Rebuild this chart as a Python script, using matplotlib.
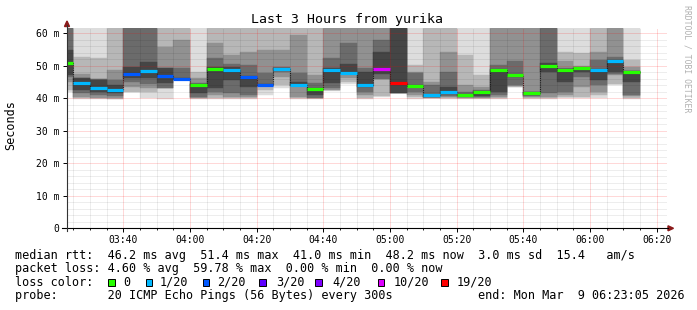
import numpy as np
import pandas as pd
import matplotlib
matplotlib.use('Agg')
import matplotlib.pyplot as plt
import matplotlib.dates as mdates
from matplotlib.patches import Rectangle, Polygon
from matplotlib.lines import Line2D

W, H = 697, 310

# 5 minute steps, time of the end of each step
t_start = pd.Timestamp('2026-03-09 03:23:05')
t_end = pd.Timestamp('2026-03-09 06:23:05')
bar_end = pd.date_range('2026-03-09 03:25', periods=35, freq='5min')

# median rtt (ms) and lost pings out of 20 per step
median = [50.8, 44.6, 43.2, 42.6, 47.5, 48.3, 46.7, 46.0, 44.0, 49.1,
          48.8, 46.6, 44.0, 49.1, 44.0, 42.8, 48.8, 47.7, 44.0, 48.9,
          44.6, 43.7, 40.9, 41.9, 40.9, 41.9, 48.6, 47.2, 41.6, 50.0,
          48.8, 49.2, 48.8, 51.3, 48.2]
loss = [0, 1, 1, 1, 2, 1, 2, 2, 0, 0, 1, 2, 2, 1, 1, 0, 1, 1, 1, 10,
        19, 0, 1, 1, 0, 0, 0, 0, 0, 0, 0, 0, 1, 1, 0]

# smoke: lower / upper ping values of each band, outermost band first
smoke_lo = [
    [42.0, 42.5, 45.1, 46.5, 47.2], [39.9, 40.2, 40.5, 41.5, 42.5],
    [39.8, 40.0, 40.2, 41.0, 42.0], [39.8, 39.9, 40.0, 40.8, 41.5],
    [41.8, 42.0, 43.6, 45.0, 46.1], [40.2, 42.0, 43.1, 44.5, 46.1],
    [39.9, 43.0, 43.05, 43.1, 44.6], [45.8, 45.8, 45.8, 45.8, 45.9],
    [39.9, 40.0, 40.1, 40.5, 41.5], [39.8, 40.0, 41.0, 42.0, 43.1],
    [39.8, 40.0, 40.5, 41.5, 45.6], [39.8, 40.0, 40.5, 41.0, 43.6],
    [41.0, 42.5, 43.9, 43.9, 43.9], [43.1, 44.0, 46.5, 48.0, 48.8],
    [39.9, 40.0, 40.5, 43.8, 43.8], [39.9, 40.0, 40.1, 40.2, 41.0],
    [42.2, 42.4, 42.6, 43.0, 44.6], [44.5, 45.0, 46.3, 47.4, 47.4],
    [39.9, 40.2, 41.0, 42.0, 43.5], [40.5, 40.6, 45.9, 45.9, 47.5],
    [41.5, 41.5, 41.5, 41.5, 41.5], [39.9, 40.5, 41.0, 42.0, 43.5],
    [40.0, 40.1, 40.2, 40.3, 40.5], [39.9, 40.0, 40.3, 40.8, 41.3],
    [39.9, 40.0, 40.2, 40.4, 40.6], [39.9, 40.0, 40.2, 40.5, 40.8],
    [39.9, 40.0, 40.5, 41.0, 42.0], [43.3, 43.5, 43.8, 44.0, 46.5],
    [39.9, 40.0, 40.3, 40.6, 41.0], [39.9, 40.0, 40.5, 41.5, 48.2],
    [40.0, 40.5, 41.0, 42.0, 45.0], [40.0, 40.5, 43.6, 46.5, 48.0],
    [40.0, 41.0, 42.0, 44.0, 45.6], [44.0, 44.5, 47.0, 47.5, 48.2],
    [39.9, 40.2, 40.6, 41.0, 45.0]]
smoke_hi = [
    [65, 65, 65, 65, 54.9], [65, 52.8, 47.6, 46.3, 46.1],
    [65, 52.3, 46.0, 45.8, 45.6], [65, 65, 48.7, 45.6, 44.1],
    [65, 65, 65, 65, 49.7], [65, 65, 65, 65, 51.0],
    [65, 65, 55.9, 49.3, 49.2], [65, 65, 57.9, 49.2, 46.3],
    [65, 48.2, 46.1, 44.6, 44.3], [65, 65, 56.9, 52.3, 49.7],
    [65, 65, 53.3, 50.5, 49.5], [65, 65, 54.3, 50.2, 46.9],
    [65, 65, 54.9, 47.7, 44.3], [65, 65, 54.9, 49.7, 49.3],
    [65, 65, 59.5, 47.7, 45.1], [65, 65, 47.2, 44.6, 43.0],
    [65, 65, 65, 52.3, 49.2], [65, 65, 65, 56.9, 50.5],
    [65, 65, 65, 49.2, 48.2], [65, 65, 65, 57.9, 54.3],
    [65, 65, 65, 65, 65], [65, 50.2, 48.0, 47.7, 44.0],
    [65, 65, 45.1, 44.1, 41.0], [65, 65, 54.3, 48.2, 43.6],
    [65, 53.3, 44.1, 41.8, 41.2], [65, 47.2, 43.5, 42.6, 42.1],
    [65, 65, 65, 50.2, 49.0], [65, 65, 65, 51.3, 47.5],
    [65, 65, 65, 42.0, 41.8], [65, 65, 65, 65, 50.8],
    [65, 54.3, 51.3, 49.4, 49.0], [65, 53.8, 49.8, 49.6, 49.4],
    [65, 65, 54.3, 51.8, 48.9], [65, 65, 65, 52.8, 51.8],
    [65, 51.8, 49.7, 48.5, 48.3]]

loss_keys = [0, 1, 2, 3, 4, 10, 19]
loss_labels = ['0', '1/20', '2/20', '3/20', '4/20', '10/20', '19/20']
loss_colors = ['#26ff00', '#00b8ff', '#0059ff', '#5e00ff', '#7e00ff', '#dd00ff', '#ff0000']
lc = dict(zip(loss_keys, loss_colors))
grays = ['#dddddd', '#b7b7b7', '#919191', '#6b6b6b', '#454545']

mono = 'DejaVu Sans Mono'
plt.rcParams['font.family'] = mono


def fx(x):
    return x / W


def fy(y):
    return 1 - y / H


fig = plt.figure(figsize=(W / 100, H / 100), dpi=100)
ax = fig.add_axes([fx(67), fy(228.3), 600 / W, 200 / H])

wd = 5 / 1440
x0 = mdates.date2num(bar_end) - wd
lo = np.array(smoke_lo)
hi = np.array(smoke_hi)
for k in range(5):
    ax.bar(x0, hi[:, k] - lo[:, k], bottom=lo[:, k], width=wd, align='edge',
           color=grays[k], edgecolor=grays[k], linewidth=0.3, zorder=1)

# median line
xs = np.append(x0, x0[-1] + wd)
ax.step(xs, median + [median[-1]], where='post', color='#202020', lw=0.8,
        linestyle=(0, (1, 1)), zorder=2)
ax.hlines(median, x0, x0 + wd, colors=[lc[l] for l in loss], lw=2.3, zorder=4)

ax.set_xlim(mdates.date2num(t_start), mdates.date2num(t_end))
ax.set_ylim(0, 61.5)
ax.xaxis.set_major_locator(mdates.MinuteLocator(byminute=[0, 20, 40]))
ax.xaxis.set_minor_locator(mdates.MinuteLocator(byminute=range(0, 60, 5)))
ax.xaxis.set_major_formatter(mdates.DateFormatter('%H:%M'))
ax.set_yticks(range(0, 61, 10))
ax.set_yticklabels(['0'] + ['%d m' % v for v in range(10, 61, 10)])
ax.set_yticks(range(0, 62, 2), minor=True)

ax.set_axisbelow(False)
ax.grid(which='minor', color='#000000', alpha=0.14, lw=0.72, linestyle=(0, (1, 1)))
ax.grid(which='major', color='#ff0000', alpha=0.3, lw=0.72, linestyle=(0, (1, 1)))
for s in ax.spines.values():
    s.set_visible(False)
ax.tick_params(axis='both', which='major', direction='out', length=3, width=0.7,
               labelsize=7, color='#000000')
ax.tick_params(axis='x', which='minor', direction='out', length=1.2, width=0.6)
ax.tick_params(axis='y', which='minor', length=0)
ax.tick_params(axis='y', pad=2.5)
ax.tick_params(axis='x', pad=1.5)
for lab in ax.get_xticklabels() + ax.get_yticklabels():
    lab.set_family(mono)

# axes lines and arrows
fig.add_artist(Line2D([fx(62), fx(668)], [fy(228.3), fy(228.3)], color='black', lw=0.8))
fig.add_artist(Line2D([fx(67), fx(67)], [fy(231), fy(25)], color='#333333', lw=0.8))
fig.add_artist(Polygon([(fx(64.5), fy(26.5)), (fx(69.5), fy(26.5)), (fx(67), fy(21))],
                       closed=True, color='#8b1a1a', transform=fig.transFigure))
fig.add_artist(Polygon([(fx(668), fy(225.8)), (fx(668), fy(230.8)), (fx(673.5), fy(228.3))],
                       closed=True, color='#8b1a1a', transform=fig.transFigure))

fig.text(fx(347.3), fy(19.5), 'Last 3 Hours from yurika', ha='center', va='center',
         fontsize=9.5, family=mono)
fig.text(fx(11), fy(125), 'Seconds', rotation=90, ha='center', va='center',
         fontsize=8.5, family=mono)
fig.text(fx(687.5), fy(59), 'RRDTOOL / TOBI OETIKER', rotation=270, ha='center',
         va='center', fontsize=5.9, family=mono, color='#b0b0b0')

lines = ['median rtt:  46.2 ms avg  51.4 ms max  41.0 ms min  48.2 ms now  3.0 ms sd  15.4   am/s',
         'packet loss: 4.60 % avg  59.78 % max  0.00 % min  0.00 % now',
         'loss color:',
         'probe:       20 ICMP Echo Pings (56 Bytes) every 300s']
base = [259, 272, 285.7, 299]
for txt, b in zip(lines, base):
    fig.text(fx(15), fy(b), txt, ha='left', va='baseline', fontsize=8.5, family=mono)
fig.text(fx(478.3), fy(299), 'end: Mon Mar  9 06:23:05 2026', ha='left', va='baseline',
         fontsize=8.5, family=mono)

sq_x = [108, 145.7, 202.7, 259, 315, 377.7, 441]
lab_x = [123, 160, 217.3, 275.7, 332, 393.3, 456.7]
for c, lab, sx, tx in zip(loss_colors, loss_labels, sq_x, lab_x):
    fig.add_artist(Rectangle((fx(sx), fy(285.7)), 6.7 / W, 6.7 / H, facecolor=c,
                             edgecolor='black', lw=0.7, transform=fig.transFigure))
    fig.text(fx(tx), fy(285.7), lab, ha='left', va='baseline', fontsize=8.5, family=mono)

fig.savefig('out.png', dpi=100)
